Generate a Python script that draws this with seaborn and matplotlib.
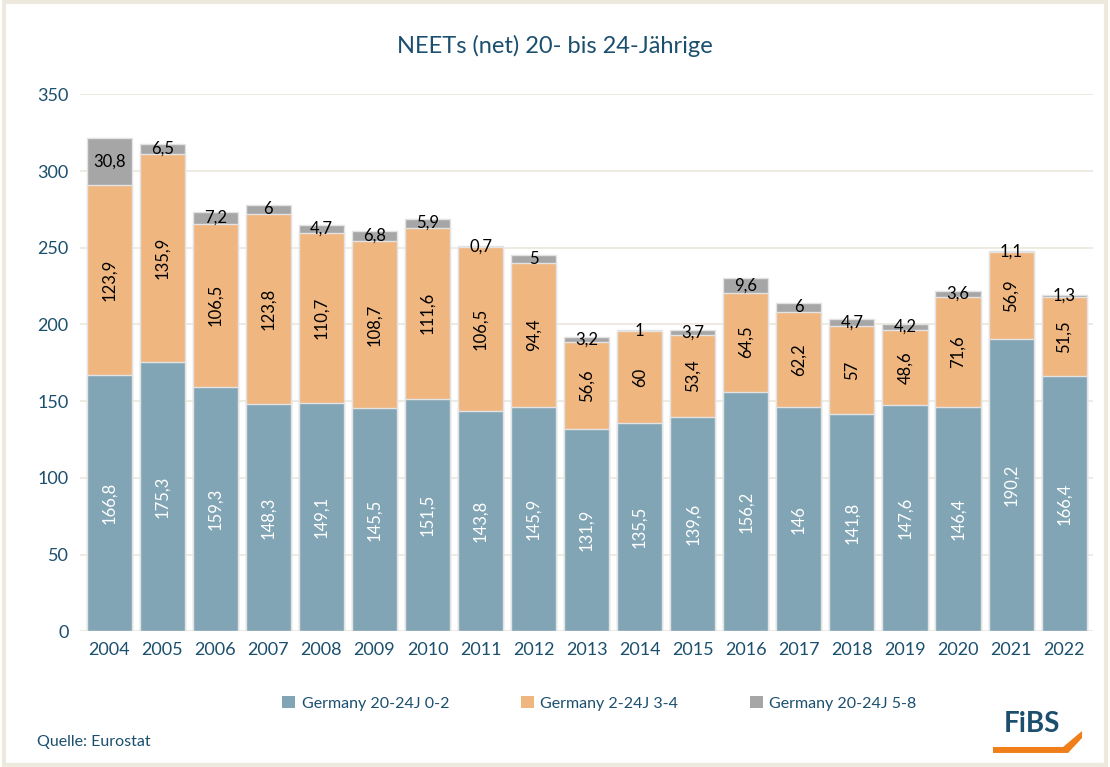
import matplotlib
matplotlib.use("Agg")
import matplotlib.pyplot as plt
import seaborn as sns
import pandas as pd
from matplotlib.patches import Patch, Rectangle, Polygon

# Data
years = [str(y) for y in range(2004, 2023)]
low = [166.8, 175.3, 159.3, 148.3, 149.1, 145.5, 151.5, 143.8, 145.9, 131.9,
       135.5, 139.6, 156.2, 146, 141.8, 147.6, 146.4, 190.2, 166.4]
mid = [123.9, 135.9, 106.5, 123.8, 110.7, 108.7, 111.6, 106.5, 94.4, 56.6,
       60, 53.4, 64.5, 62.2, 57, 48.6, 71.6, 56.9, 51.5]
high = [30.8, 6.5, 7.2, 6, 4.7, 6.8, 5.9, 0.7, 5, 3.2,
        1, 3.7, 9.6, 6, 4.7, 4.2, 3.6, 1.1, 1.3]
series = ["Germany 20-24J 0-2", "Germany 2-24J 3-4", "Germany 20-24J 5-8"]

c_low, c_mid, c_high = "#82A5B5", "#F0B680", "#A6A6A6"
txt = "#1B4F6E"

sns.set_style("white")
plt.rcParams["font.family"] = ["Lato", "DejaVu Sans"]

df = pd.DataFrame({"year": years, "low": low, "mid": mid, "high": high})
df["c2"] = df["low"] + df["mid"]
df["c3"] = df["c2"] + df["high"]

fig = plt.figure(figsize=(11.1, 7.67), dpi=100)
ax = fig.add_axes([0.072, 0.177, 0.913, 0.7])

# stacked bars drawn as overlapping cumulative bars
for col, color in [("c3", c_high), ("c2", c_mid), ("low", c_low)]:
    sns.barplot(data=df, x="year", y=col, color=color, width=0.85,
                edgecolor="#E3E3E3", linewidth=1, saturation=1, ax=ax, zorder=3)

ax.set_ylim(0, 350)
ax.set_yticks(range(0, 351, 50))
ax.grid(axis="y", color="#EDE9DF", linewidth=1.3, zorder=0)
ax.set_axisbelow(True)
sns.despine(ax=ax, left=True, bottom=True)
ax.set_xlabel("")
ax.set_ylabel("")
ax.tick_params(axis="both", length=0, labelsize=13, colors=txt, pad=8)
ax.set_xlim(-0.55, len(years) - 0.45)


def fmt(v):
    return f"{v:g}".replace(".", ",")


for i in range(len(years)):
    ax.text(i, low[i] / 2, fmt(low[i]), rotation=90, ha="center", va="center",
            color="white", fontsize=12, zorder=5)
    ax.text(i, low[i] + mid[i] / 2, fmt(mid[i]), rotation=90, ha="center",
            va="center", color="black", fontsize=12, zorder=5)
    ax.text(i, low[i] + mid[i] + high[i] / 2, fmt(high[i]), ha="center",
            va="center", color="black", fontsize=12, zorder=5)

fig.text(0.5, 0.94, "NEETs (net) 20- bis 24-Jährige", ha="center", va="center",
         fontsize=17, color=txt)

handles = [Patch(facecolor=c, edgecolor="none") for c in (c_low, c_mid, c_high)]
fig.legend(handles, series, loc="center", bbox_to_anchor=(0.54, 0.083), ncol=3,
           frameon=False, fontsize=11.5, labelcolor=txt, handlelength=0.8,
           handleheight=0.8, columnspacing=4.5, handletextpad=0.4)

fig.text(0.033, 0.033, "Quelle: Eurostat", fontsize=11.5, color=txt,
         ha="left", va="center")

# logo
fig.text(0.93, 0.056, "FiBS", fontsize=20, fontweight="bold", color="#1B4F6E",
         ha="center", va="center")
fig.patches.append(Polygon([[0.8946, 0.0183], [0.9622, 0.0183], [0.9748, 0.0378],
                            [0.9748, 0.0469], [0.9577, 0.0261], [0.8946, 0.0261]],
                           closed=True, transform=fig.transFigure,
                           facecolor="#F07F1A", edgecolor="none"))

# figure border
fig.patches.append(Rectangle((0.004, 0.003), 0.992, 0.994, transform=fig.transFigure,
                             fill=False, edgecolor="#EDE9DF", linewidth=3))

fig.savefig("out.png", dpi=100)
